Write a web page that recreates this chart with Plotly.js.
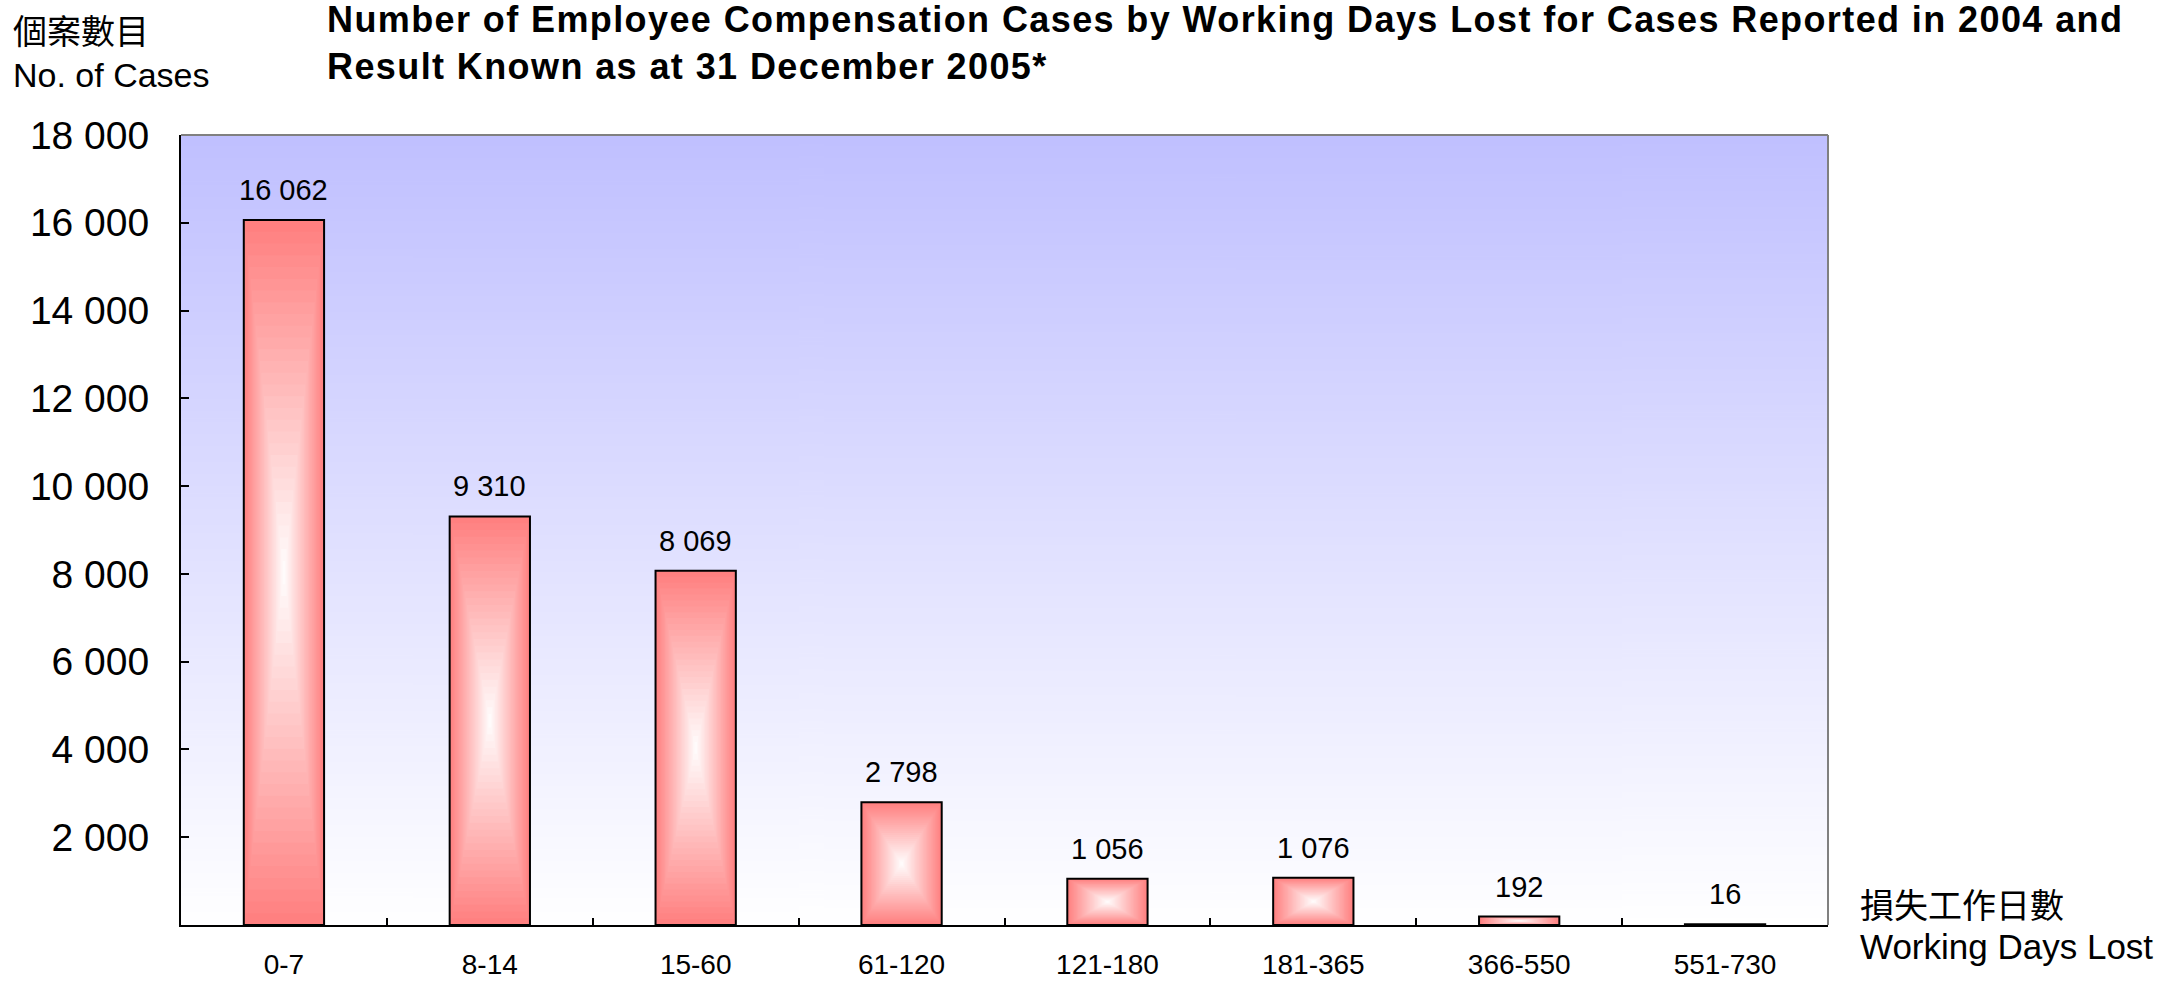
<!DOCTYPE html>
<html>
<head>
<meta charset="utf-8">
<script src="https://cdn.plot.ly/plotly-3.0.1.min.js"></script>
<style>
  html, body { margin: 0; padding: 0; background: #fff; }
  #plotArea { width: 2159px; height: 981px; }
  /* the original title is set a little wider than Arial Bold */
  #plotArea .gtitle { letter-spacing: 1.4px; }
</style>
</head>
<body>
<div id="plotArea"></div>
<script>
// data
var daysLost = ["0-7", "8-14", "15-60", "61-120", "121-180", "181-365", "366-550", "551-730"];
var cases = [16062, 9310, 8069, 2798, 1056, 1076, 192, 16];
var yTicks = [2000, 4000, 6000, 8000, 10000, 12000, 14000, 16000, 18000];

var font = "Liberation Sans, Arial, sans-serif";
var cjk = "Noto Sans CJK TC, Noto Sans CJK SC, sans-serif";

// plot area background: lavender at top fading to white
var cv = document.createElement("canvas");
cv.width = 4; cv.height = 400;
var ctx = cv.getContext("2d");
var grd = ctx.createLinearGradient(0, 0, 0, 400);
grd.addColorStop(0, "#c0c0ff");
grd.addColorStop(1, "#ffffff");
ctx.fillStyle = grd;
ctx.fillRect(0, 0, 4, 400);
var bgImg = cv.toDataURL();

// bars with a "from centre" gradient: concentric rectangles, red edge -> white middle
var barW = 0.39;
var layers = 30;
var traces = [];
for (var k = 0; k < layers; k++) {
    var t = k / layers;
    var g = Math.round(128 + 127 * t);
    traces.push({
        type: "bar",
        x: daysLost,
        y: cases.map(function (v) { return v * (1 - t); }),
        base: cases.map(function (v) { return v * t / 2; }),
        width: barW * (1 - t),
        marker: { color: "rgb(255," + g + "," + g + ")", line: { width: 0 } },
        hoverinfo: "skip",
        showlegend: false
    });
}
// outline
traces.push({
    type: "bar",
    x: daysLost,
    y: cases,
    width: barW,
    marker: { color: "rgba(0,0,0,0)", line: { color: "#000", width: 2 } },
    hoverinfo: "x+y",
    showlegend: false
});

function fmt(v) { return String(v).replace(/\B(?=(\d{3})+(?!\d))/g, " "); }

var annotations = daysLost.map(function (d, i) {
    return {
        x: d, y: cases[i], xref: "x", yref: "y",
        text: fmt(cases[i]), showarrow: false,
        yanchor: "bottom", yshift: 12,
        font: { family: font, size: 29, color: "#000" }
    };
});
// axis titles
annotations.push(
    { text: "個案數目", xref: "paper", yref: "paper", x: -0.103, y: 1.133, xanchor: "left", yanchor: "middle", showarrow: false, font: { family: cjk, size: 34, color: "#000" } },
    { text: "No. of Cases", xref: "paper", yref: "paper", x: -0.103, y: 1.076, xanchor: "left", yanchor: "middle", showarrow: false, font: { family: font, size: 34, color: "#000" } },
    { text: "損失工作日數", xref: "paper", yref: "paper", x: 1.018, y: 0.027, xanchor: "left", yanchor: "middle", showarrow: false, font: { family: cjk, size: 34, color: "#000" } },
    { text: "Working Days Lost", xref: "paper", yref: "paper", x: 1.018, y: -0.027, xanchor: "left", yanchor: "middle", showarrow: false, font: { family: font, size: 35, color: "#000" } }
);

var layout = {
    width: 2159,
    height: 981,
    margin: { l: 181, r: 331, t: 135, b: 56 },
    paper_bgcolor: "#fff",
    plot_bgcolor: "rgba(0,0,0,0)",
    separators: ". ",
    barmode: "overlay",
    title: {
        text: "Number of Employee Compensation Cases by Working Days Lost for Cases Reported in 2004 and<br>Result Known as at 31 December 2005*",
        font: { family: font, size: 36, color: "#000", weight: "bold" },
        xref: "container", yref: "container",
        x: 327 / 2159, xanchor: "left",
        y: 0.967, yanchor: "top"
    },
    xaxis: {
        type: "category",
        showline: true, linecolor: "#000", linewidth: 2,
        ticks: "inside", tickson: "boundaries", ticklen: 7, tickwidth: 2, tickcolor: "#000",
        showgrid: false, zeroline: false,
        tickfont: { family: font, size: 28, color: "#000" },
        ticklabelstandoff: 13
    },
    yaxis: {
        range: [0, 18000],
        tickvals: yTicks,
        tickformat: ",d",
        showline: true, linecolor: "#000", linewidth: 2,
        ticks: "inside", ticklen: 8, tickwidth: 2, tickcolor: "#000",
        showgrid: false, zeroline: false,
        tickfont: { family: font, size: 39, color: "#000" },
        ticklabelstandoff: 22
    },
    images: [{
        source: bgImg, xref: "paper", yref: "paper",
        x: 0, y: 1, sizex: 1, sizey: 1, sizing: "stretch",
        xanchor: "left", yanchor: "top", layer: "below"
    }],
    shapes: [
        { type: "line", xref: "paper", yref: "paper", x0: 0, x1: 1, y0: 1, y1: 1, line: { color: "#808080", width: 2 } },
        { type: "line", xref: "paper", yref: "paper", x0: 1, x1: 1, y0: 0, y1: 1, line: { color: "#808080", width: 2 } }
    ],
    annotations: annotations
};

Plotly.newPlot("plotArea", traces, layout, { displayModeBar: false, staticPlot: true });
</script>
</body>
</html>
